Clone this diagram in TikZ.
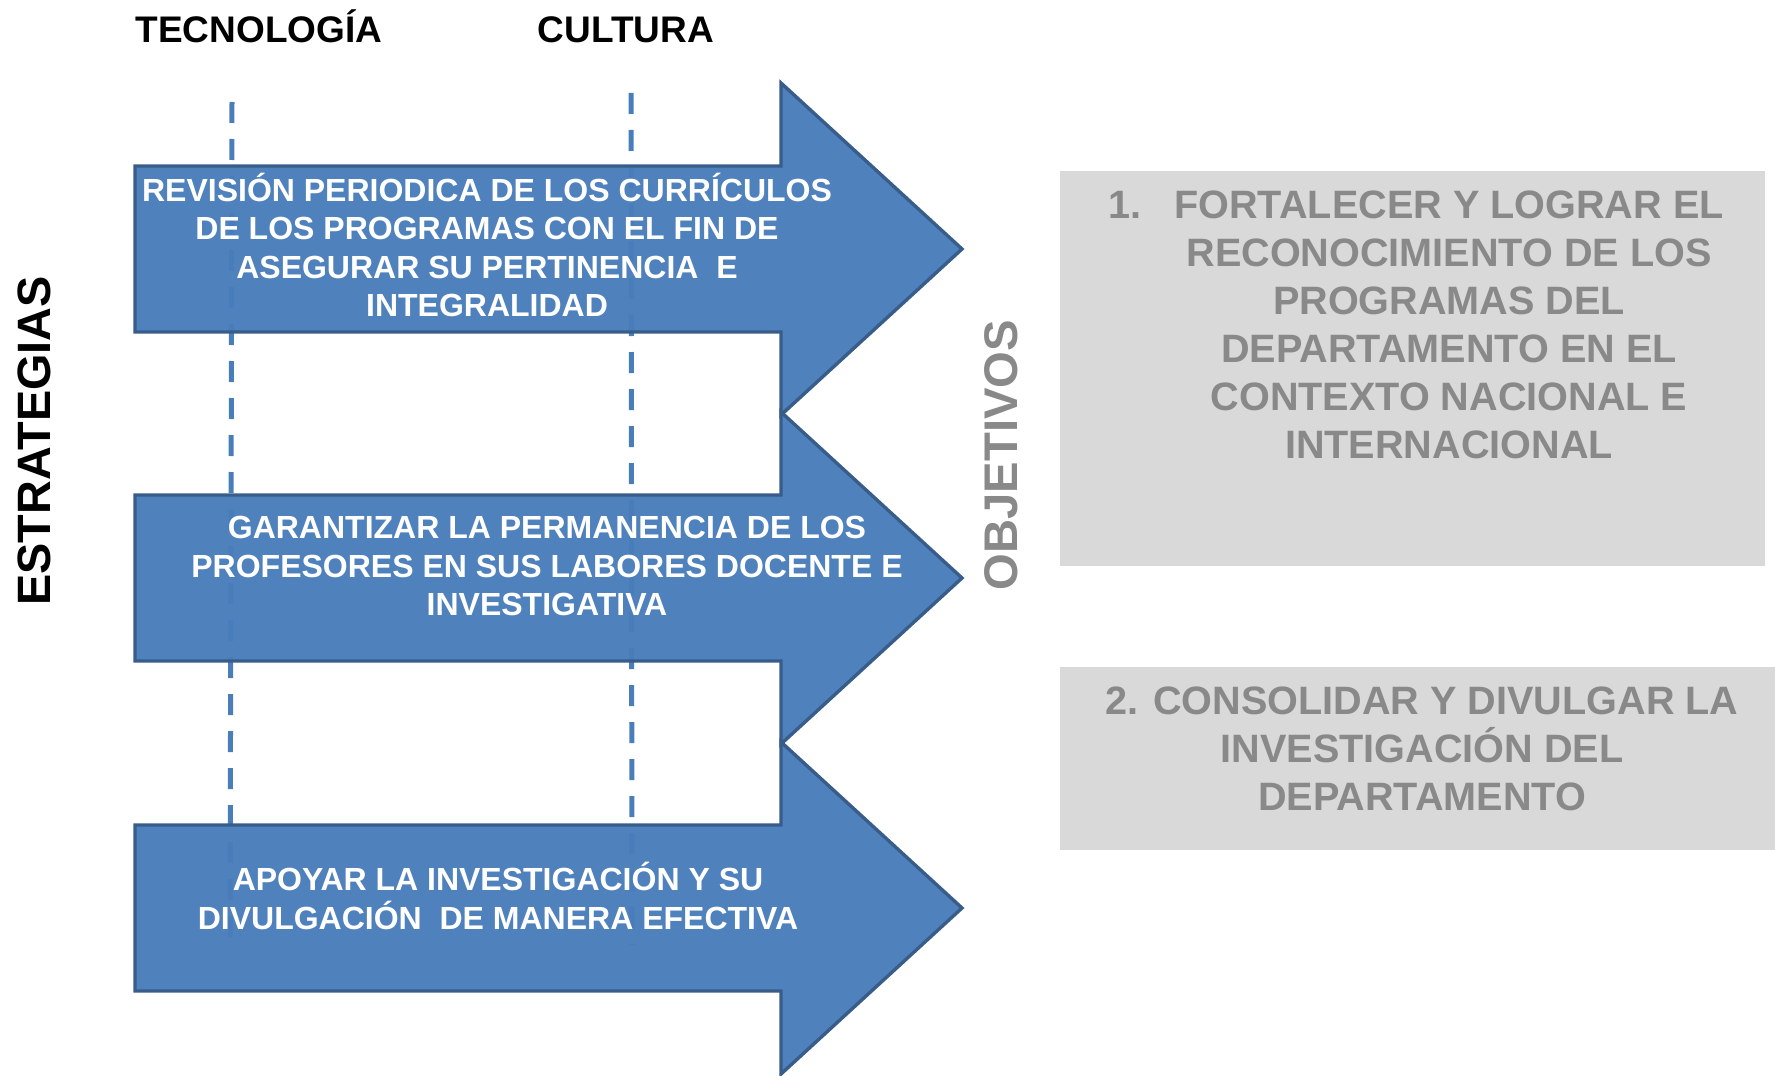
\documentclass[tikz,border=0pt]{standalone}
\usepackage{fontspec}
\setmainfont{Liberation Sans}
\definecolor{arrowfill}{RGB}{72,124,186}
\definecolor{arrowline}{RGB}{56,93,138}
\definecolor{axisblue}{RGB}{74,126,187}
\definecolor{goalgray}{RGB}{217,217,217}
\definecolor{goaltext}{RGB}{137,137,137}
\begin{document}
\begin{tikzpicture}[x=0.5pt,y=-0.5pt,
  axis/.style={draw=axisblue,line width=2.5pt,dash pattern=on 10.5pt off 8pt},
  strategy/.style={fill=arrowfill,fill opacity=0.96,draw=arrowline,line width=1.7pt,line join=miter},
  stext/.style={text=white,font=\fontsize{16}{19.25}\selectfont\bfseries,align=center},
  gtext/.style={text=goaltext,font=\fontsize{19.8}{24}\selectfont\bfseries,align=center},
  title/.style={font=\fontsize{18.5}{22}\selectfont\bfseries}]
\useasboundingbox (0,0) rectangle (1775,1075);

\node[title,anchor=base] (tec) at (259,43) {TECNOLOGÍA};
\node[title,anchor=base] (cul) at (626,43) {CULTURA};

\coordinate (t1) at (232,102);
\coordinate (t2) at (230,945);
\coordinate (c1) at (631,93);
\coordinate (c2) at (632,945);
\draw[axis] (t1) -- (t2);
\draw[axis] (c1) -- (c2);

% strategy arrows
\foreach \y in {249,578,908}
  \draw[strategy] (135,\y-83) -- (781,\y-83) -- (781,\y-166) -- (962,\y)
    -- (781,\y+166) -- (781,\y+83) -- (135,\y+83) -- cycle;

\node[stext] (s1) at (487,245) {REVISIÓN PERIODICA DE LOS CURRÍCULOS\\DE LOS PROGRAMAS CON EL FIN DE\\ASEGURAR SU PERTINENCIA\ \ E\\INTEGRALIDAD};
\node[stext] (s2) at (547,566) {GARANTIZAR LA PERMANENCIA DE LOS\\PROFESORES EN SUS LABORES DOCENTE E\\INVESTIGATIVA};
\node[stext] (s3) at (498,896) {APOYAR LA INVESTIGACIÓN Y SU\\DIVULGACIÓN\ \ DE MANERA EFECTIVA};

\node[rotate=90,font=\fontsize{23.4}{28}\selectfont\bfseries] (est) at (34,441) {ESTRATEGIAS};
\node[rotate=90,text=goaltext,font=\fontsize{23.6}{28}\selectfont\bfseries] (obj) at (1001,455) {OBJETIVOS};

% objectives
\fill[goalgray] (1060,171) rectangle (1765,566);
\fill[goalgray] (1060,667) rectangle (1775,850);
\node[gtext,anchor=base west] (n1) at (1101,219) {1.};
\node[gtext] (o1) at (1449,325) {FORTALECER Y LOGRAR EL\\RECONOCIMIENTO DE LOS\\PROGRAMAS DEL\\DEPARTAMENTO EN EL\\CONTEXTO NACIONAL E\\INTERNACIONAL};
\node[gtext] (o2) at (1422,749) {2. CONSOLIDAR Y DIVULGAR LA\\INVESTIGACIÓN DEL\\DEPARTAMENTO};
\end{tikzpicture}
\end{document}
